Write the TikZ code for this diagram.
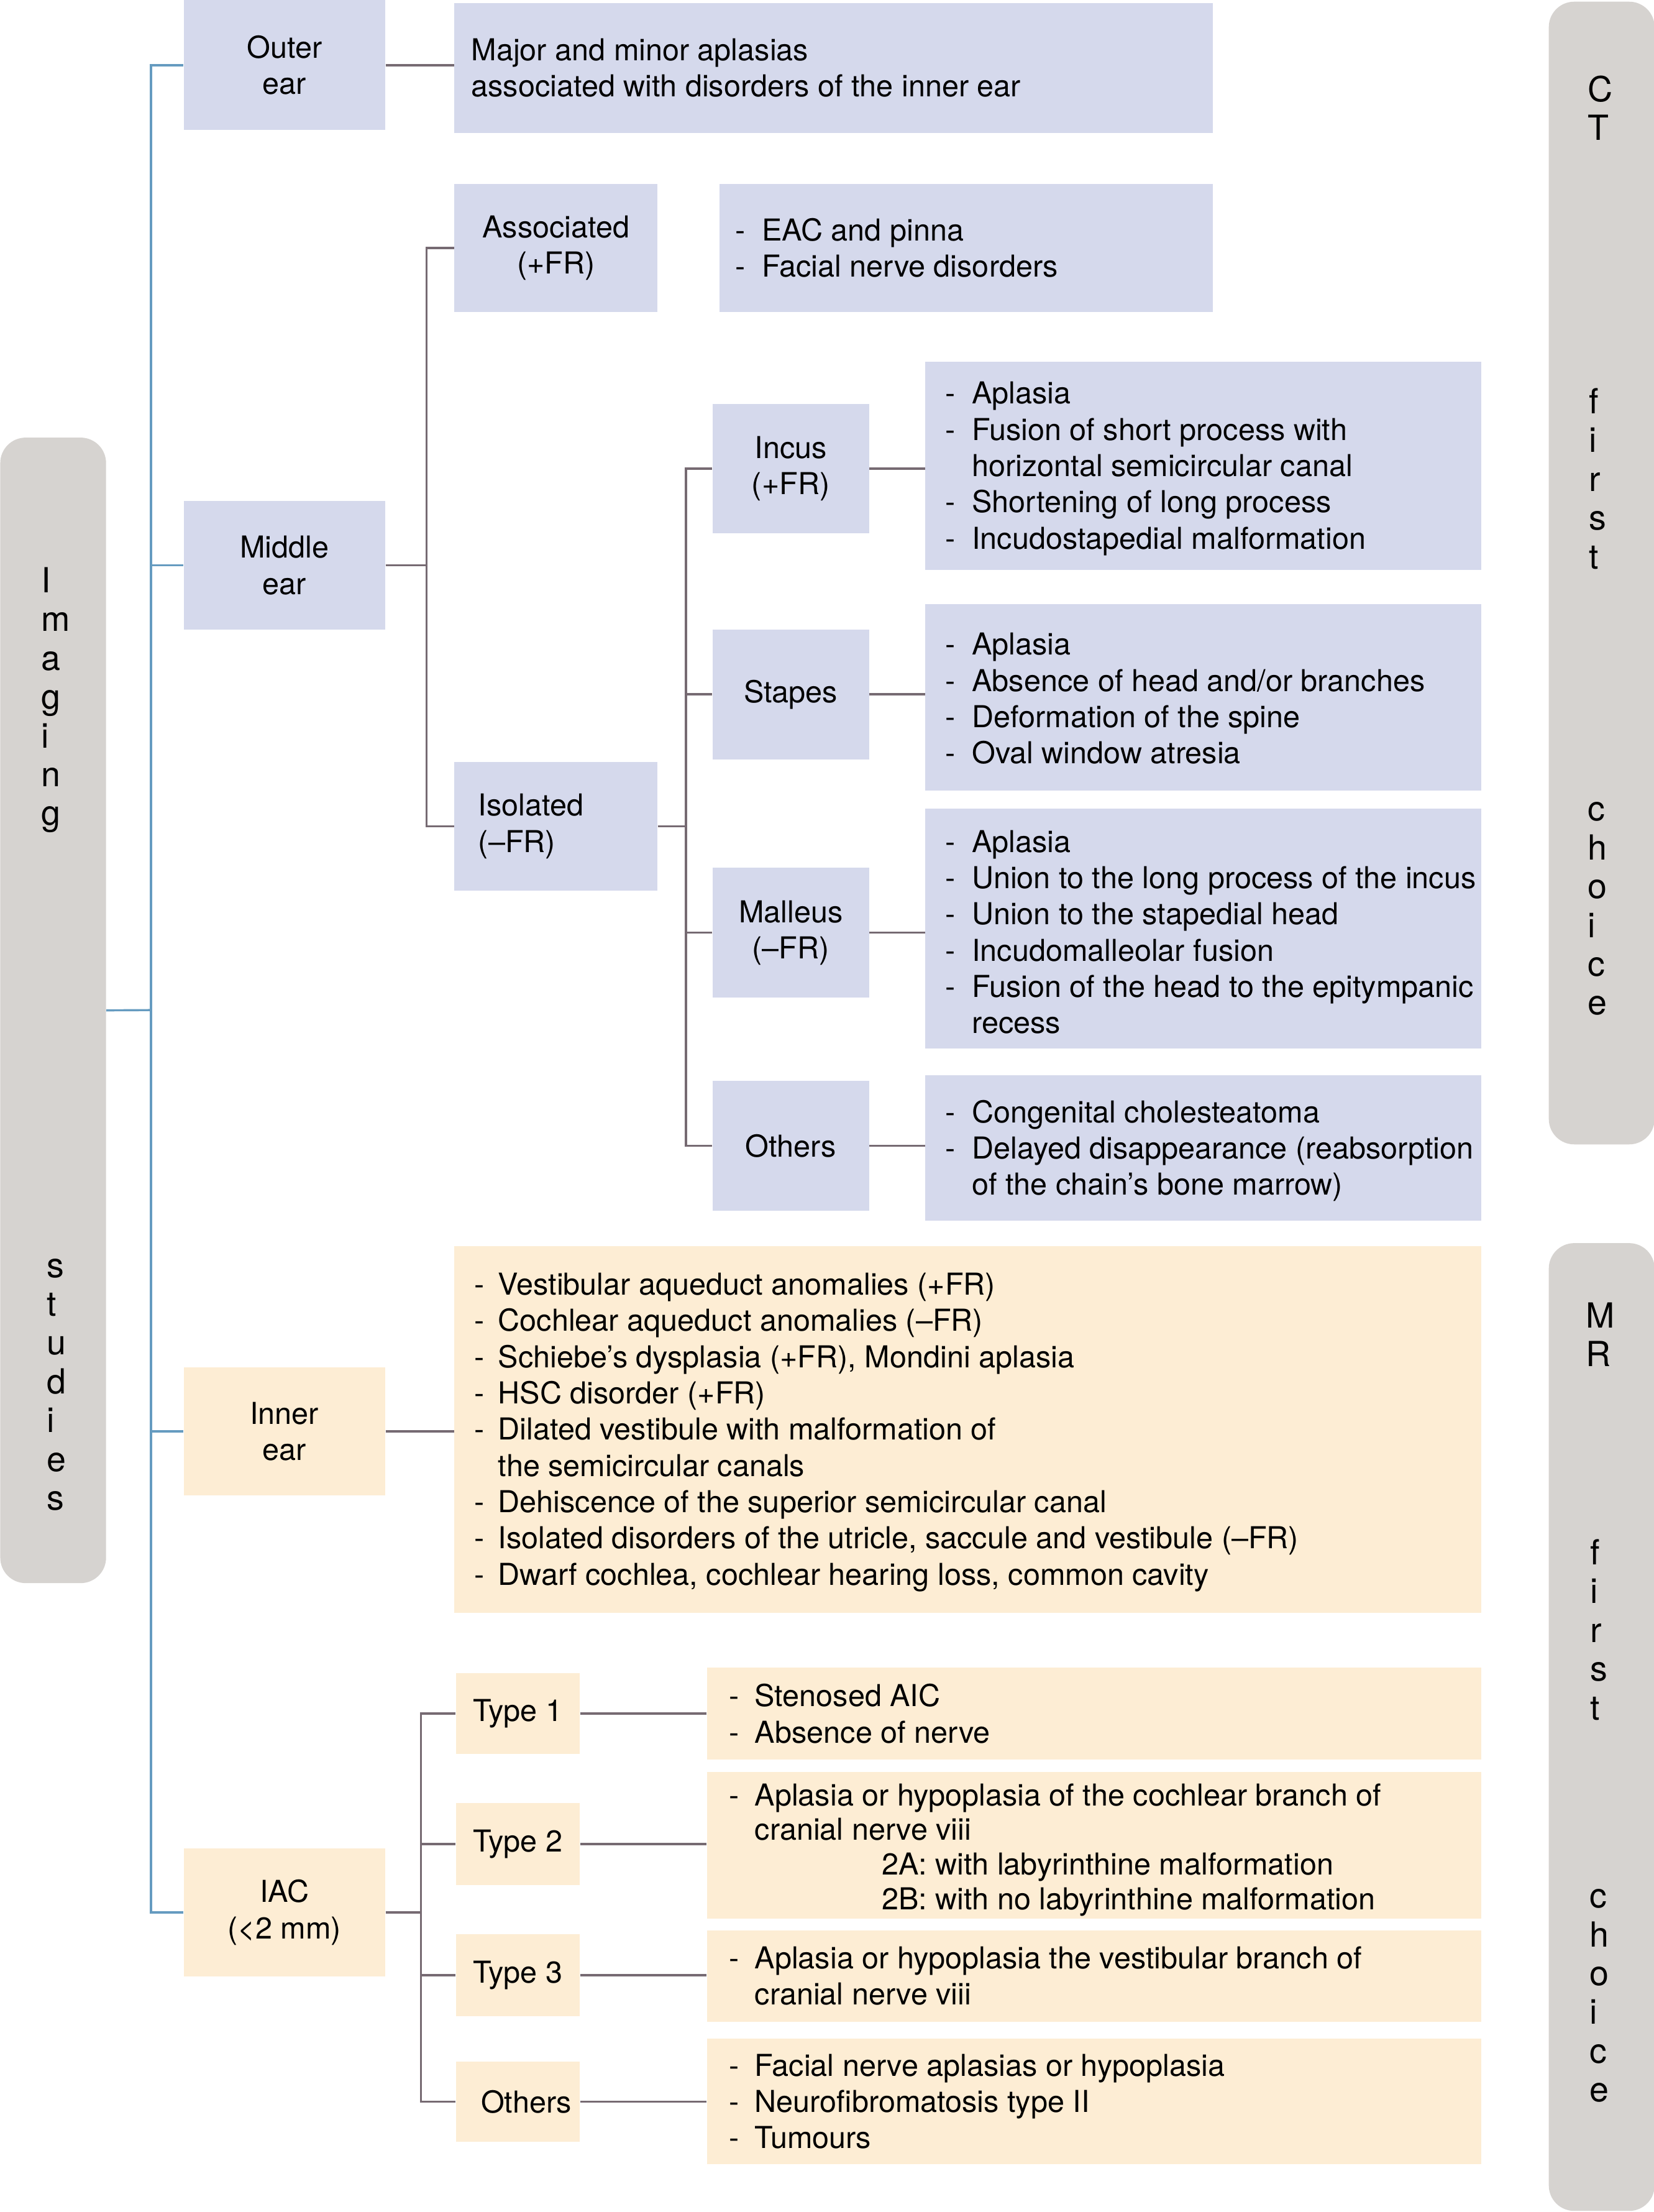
\documentclass[tikz,border=0pt]{standalone}
\usepackage{fontspec}
\setmainfont{TeX Gyre Heros}
\definecolor{lav}{RGB}{213,217,236}
\definecolor{bei}{RGB}{253,237,212}
\definecolor{barg}{RGB}{214,211,208}
\definecolor{gl}{RGB}{118,106,114}
\definecolor{bl}{RGB}{101,155,192}
\newcommand\dd{\makebox[19pt][l]{-}}
\newcommand\ind{\hspace*{19pt}}
\newcommand\ddi{\makebox[17pt][l]{-}}
\newcommand\indi{\hspace*{17pt}}
\newcommand\ddt{\makebox[18pt][l]{-}}
\newcommand\indt{\hspace*{18pt}}
\begin{document}
\begin{tikzpicture}[x=1pt,y=-1pt,
  every node/.style={font=\fontsize{21.4}{25.7}\selectfont, text=black},
  lv/.style={fill=lav, inner sep=0pt, align=center, anchor=north west},
  be/.style={fill=bei, inner sep=0pt, align=center, anchor=north west},
  txt/.style={inner sep=0pt, align=left, anchor=west},
  gline/.style={draw=gl, line width=1.5pt},
  bline/.style={draw=bl, line width=1.5pt},
  vbar/.style={fill=barg, rounded corners=18pt, inner sep=0pt, anchor=north west},
  vtxt/.style={inner sep=0pt, align=left, anchor=north west, font=\fontsize{24.5}{27.5}\selectfont}
]
\useasboundingbox (0,0) rectangle (1172.4,1568);

% side bars
\node[vbar, minimum width=75, minimum height=812] (img) at (0,310) {};
\node[vtxt] at (29,402) {I\\m\\a\\g\\i\\n\\g};
\node[vtxt] at (33,892) {s\\t\\u\\d\\i\\e\\s};
\node[vbar, minimum width=75, minimum height=810] (ct) at (1098,1) {};
\node[vtxt] at (1125.5,53.5) {C\\T};
\node[vtxt] at (1126.5,275) {f\\i\\r\\s\\t};
\node[vtxt] at (1125.5,568.5) {c\\h\\o\\i\\c\\e};
\node[vbar, minimum width=75, minimum height=686] (mr) at (1098,881) {};
\node[vtxt] at (1124.5,923) {M\\R};
\node[vtxt] at (1127.5,1091) {f\\i\\r\\s\\t};
\node[vtxt] at (1127,1339) {c\\h\\o\\i\\c\\e};

% outer ear
\node[lv, minimum width=143, minimum height=92] (outer) at (130,0) {Outer\\ear};
\node[lv, minimum width=538, minimum height=92] (major) at (322,2) {};
\node[txt] at ([xshift=12]major.west) {Major and minor aplasias\\associated with disorders of the inner ear};

% middle ear
\node[lv, minimum width=143, minimum height=91] (middle) at (130,355) {Middle\\ear};
\node[lv, minimum width=144, minimum height=91] (assoc) at (322,130) {Associated\\(+FR)};
\node[lv, minimum width=350, minimum height=91] (eac) at (510,130) {};
\node[txt] at ([xshift=11]eac.west) {\dd EAC and pinna\\\dd Facial nerve disorders};
\node[lv, minimum width=144, minimum height=91] (iso) at (322,540) {};
\node[txt] at ([xshift=17]iso.west) {Isolated\\(\textendash FR)};

\node[lv, minimum width=111, minimum height=92] (incus) at (505,286) {Incus\\(+FR)};
\node[lv, minimum width=394, minimum height=148] (incl) at (656,256) {};
\node[txt] at ([xshift=14,yshift=-2]incl.west) {\dd Aplasia\\\dd Fusion of short process with\\\ind horizontal semicircular canal\\\dd Shortening of long process\\\dd Incudostapedial malformation};

\node[lv, minimum width=111, minimum height=92] (stapes) at (505,446) {Stapes};
\node[lv, minimum width=394, minimum height=132] (stal) at (656,428) {};
\node[txt] at ([xshift=14,yshift=-1]stal.west) {\dd Aplasia\\\dd Absence of head and/or branches\\\dd Deformation of the spine\\\dd Oval window atresia};

\node[lv, minimum width=111, minimum height=92] (malleus) at (505,615) {Malleus\\(\textendash FR)};
\node[lv, minimum width=394, minimum height=170] (mall) at (656,573) {};
\node[txt] at ([xshift=14,yshift=-2.5]mall.west) {\dd Aplasia\\\dd Union to the long process of the incus\\\dd Union to the stapedial head\\\dd Incudomalleolar fusion\\\dd Fusion of the head to the epitympanic\\\ind recess};

\node[lv, minimum width=111, minimum height=92] (others) at (505,766) {Others};
\node[lv, minimum width=394, minimum height=103] (othl) at (656,762) {};
\node[txt] at ([xshift=14,yshift=-2]othl.west) {\dd Congenital cholesteatoma\\\dd Delayed disappearance (reabsorption\\\ind of the chain’s bone marrow)};

% inner ear
\node[be, minimum width=143, minimum height=91] (inner) at (130,969) {Inner\\ear};
\node[be, minimum width=728, minimum height=260] (innl) at (322,883) {};
\node[txt] at ([xshift=14,yshift=-2]innl.west) {\ddi Vestibular aqueduct anomalies (+FR)\\\ddi Cochlear aqueduct anomalies (\textendash FR)\\\ddi Schiebe’s dysplasia (+FR), Mondini aplasia\\\ddi HSC disorder (+FR)\\\ddi Dilated vestibule with malformation of\\\indi the semicircular canals\\\ddi Dehiscence of the superior semicircular canal\\\ddi Isolated disorders of the utricle, saccule and vestibule (\textendash FR)\\\ddi Dwarf cochlea, cochlear hearing loss, common cavity};

% IAC
\node[be, minimum width=143, minimum height=91] (iac) at (130,1310) {IAC\\(<2 mm)};
\node[be, minimum width=88, minimum height=57] (t1) at (323,1186) {Type 1};
\node[be, minimum width=549, minimum height=65] (t1l) at (501,1182) {};
\node[txt] at ([xshift=16]t1l.west) {\ddt Stenosed AIC\\\ddt Absence of nerve};
\node[be, minimum width=88, minimum height=58] (t2) at (323,1278) {Type 2};
\node[be, minimum width=549, minimum height=104] (t2l) at (501,1256) {};
\node[txt, font=\fontsize{21.4}{24.5}\selectfont] at ([xshift=16,yshift=-3]t2l.west) {\ddt Aplasia or hypoplasia of the cochlear branch of\\\indt cranial nerve viii\\\hspace*{108pt}2A: with labyrinthine malformation\\\hspace*{108pt}2B: with no labyrinthine malformation};
\node[be, minimum width=88, minimum height=58] (t3) at (323,1371) {Type 3};
\node[be, minimum width=549, minimum height=65] (t3l) at (501,1368) {};
\node[txt] at ([xshift=16]t3l.west) {\ddt Aplasia or hypoplasia the vestibular branch of\\\indt cranial nerve viii};
\node[be, minimum width=88, minimum height=57] (t4) at (323,1461) {};
\node[inner sep=0pt] at ([xshift=6]t4.center) {Others};
\node[be, minimum width=549, minimum height=89] (t4l) at (501,1445) {};
\node[txt] at ([xshift=16]t4l.west) {\ddt Facial nerve aplasias or hypoplasia\\\ddt Neurofibromatosis type II\\\ddt Tumours};

% blue connectors
\coordinate (bx) at (107,716);
\draw[bline] (img.east) -- (bx);
\draw[bline] (outer.west) -| (bx) |- (iac.west);
\draw[bline] (middle.west) -- (middle.west -| bx);
\draw[bline] (inner.west) -- (inner.west -| bx);

% gray connectors
\draw[gline] (outer.east) -- (outer.east -| major.west);
\coordinate (mj) at ([xshift=29]middle.east);
\draw[gline] (middle.east) -- (mj);
\draw[gline] (assoc.west) -| (mj) |- (iso.west);
\coordinate (ij) at ([xshift=20]iso.east);
\draw[gline] (iso.east) -- (ij);
\draw[gline] (incus.west) -| (ij) |- (others.west);
\draw[gline] (stapes.west) -- (stapes.west -| ij);
\draw[gline] (malleus.west) -- (malleus.west -| ij);
\draw[gline] (incus.east) -- (incus.east -| incl.west);
\draw[gline] (stapes.east) -- (stapes.east -| stal.west);
\draw[gline] (malleus.east) -- (malleus.east -| mall.west);
\draw[gline] (others.east) -- (others.east -| othl.west);
\draw[gline] (inner.east) -- (inner.east -| innl.west);
\coordinate (aj) at ([xshift=25]iac.east);
\draw[gline] (iac.east) -- (aj);
\draw[gline] (t1.west) -| (aj) |- (t4.west);
\draw[gline] (t2.west) -- (t2.west -| aj);
\draw[gline] (t3.west) -- (t3.west -| aj);
\draw[gline] (t1.east) -- (t1.east -| t1l.west);
\draw[gline] (t2.east) -- (t2.east -| t2l.west);
\draw[gline] (t3.east) -- (t3.east -| t3l.west);
\draw[gline] (t4.east) -- (t4.east -| t4l.west);
\end{tikzpicture}
\end{document}
